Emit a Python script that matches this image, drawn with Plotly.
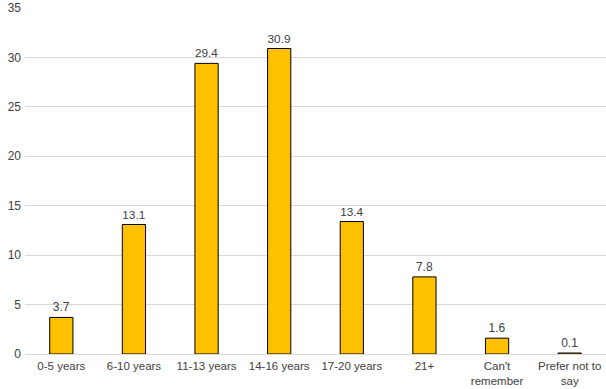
import plotly.graph_objects as go

categories = ["0-5 years", "6-10 years", "11-13 years", "14-16 years", "17-20 years", "21+", "Can't<br>remember", "Prefer not to<br>say"]
values = [3.7, 13.1, 29.4, 30.9, 13.4, 7.8, 1.6, 0.1]
y_ticks = [0, 5, 10, 15, 20, 25, 30, 35]

fig = go.Figure(go.Bar(
    x=categories, y=values,
    marker=dict(color="#FFC000", line=dict(color="#000000", width=1)),
    text=[f"{v:.1f}" for v in values], textposition="outside",
    textfont=dict(family="Liberation Sans, Arial", size=12, color="#404040"),
    cliponaxis=False,
))
fig.update_layout(
    width=606, height=392,
    margin=dict(l=25, r=0, t=8, b=38),
    paper_bgcolor="white", plot_bgcolor="white",
    bargap=0.68,
    showlegend=False,
    font=dict(family="Liberation Sans, Arial", size=12, color="#404040"),
)
fig.update_xaxes(showgrid=False, showline=True, linecolor="#d9d9d9", linewidth=1,
                 ticks="", automargin=False, ticklabelstandoff=1,
                 tickfont=dict(size=11.5, color="#404040"))
fig.update_yaxes(range=[0, 35], tickvals=y_ticks, showgrid=True, gridcolor="#d9d9d9", gridwidth=1,
                 zeroline=False, showline=False, ticks="", automargin=False, ticklabelstandoff=3,
                 tickfont=dict(size=12, color="#404040"))
fig.write_html("out.html", config={"displayModeBar": False},
               post_script="document.body.style.margin='0';document.body.style.overflow='hidden';")
